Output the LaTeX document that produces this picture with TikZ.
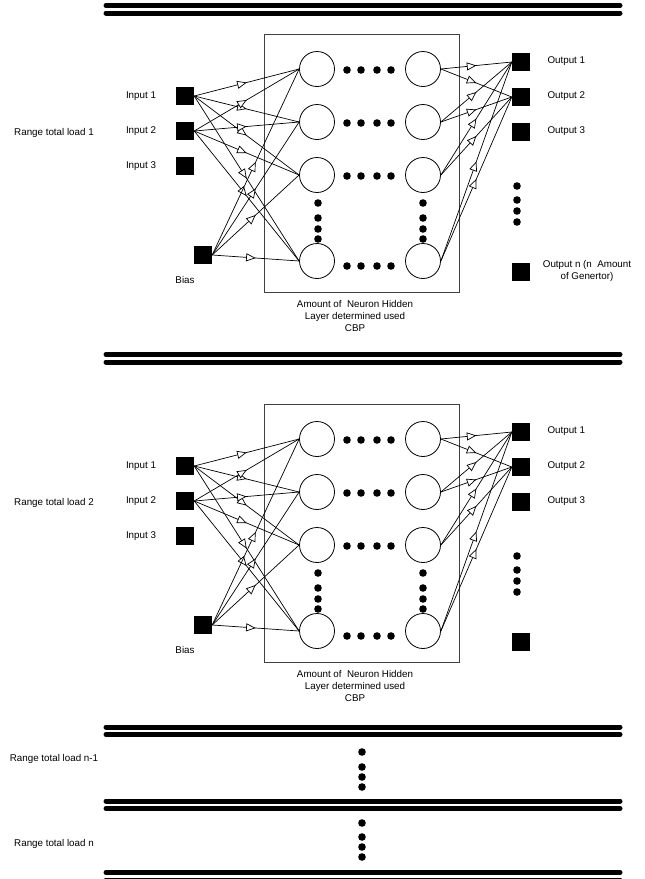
\documentclass[tikz,border=0pt]{standalone}
\usepackage{fontspec}
\setmainfont{Liberation Sans}
\usetikzlibrary{arrows.meta,decorations.markings}

\tikzset{
    unit/.style={circle, draw, line width=.8pt, minimum size=35pt, inner sep=0pt},
    port/.style={fill=black, minimum size=18pt, inner sep=0pt},
    link/.style={line width=.7pt, postaction={decorate},
        decoration={markings, mark=at position .5 with {\arrow[line width=.7pt]{Triangle[length=9.5pt,width=8pt,fill=white]}}}},
    lbl/.style={font=\fontsize{9.8}{12}\selectfont},
    busline/.style={line width=5pt, line cap=round},
    bigdot/.style={fill=black}
}

\begin{document}
\begin{tikzpicture}[x=1pt,y=-1pt]
    \useasboundingbox (0,0) rectangle (645,879);
    % Bus lines
    \foreach \y in {5.5,354.5,727,801,872.5} {
        \draw[busline] (106,\y) -- (620,\y);
        \draw[busline] (106,\y+7.5) -- (620,\y+7.5);
    }
    % Two networks
    \foreach \b/\oy in {1/0,2/370} {
        % Hidden layer
        \draw[black!75, line width=.8pt] (264,34+\oy) rectangle (459,292+\oy);
        \foreach \r/\y in {1/69,2/122,3/175,4/261} {
            \node[unit] (h\r-\b) at (317,\y+\oy) {};
            \node[unit] (k\r-\b) at (423,\y+\oy) {};
        }
        \foreach \y in {70,123,176,266}
            \foreach \x in {347,361,377,391}
                \fill[bigdot] (\x,\y+\oy) circle (3.8);
        \foreach \y in {203,218,229,239} {
            \fill[bigdot] (318,\y+\oy) circle (3.8);
            \fill[bigdot] (423,\y+\oy) circle (3.8);
        }
        \node[lbl, align=center] (cap-\b) at (355,316+\oy) {Amount of\ \ Neuron Hidden\\Layer determined used\\CBP};
        % Inputs
        \node[port] (in1-\b) at (185,96+\oy) {};
        \node[port] (in2-\b) at (185,131+\oy) {};
        \node[port] (in3-\b) at (185,166+\oy) {};
        \node[port] (bias-\b) at (203,255+\oy) {};
        \node[lbl] (tin1-\b) at (141,96+\oy) {Input 1};
        \node[lbl] (tin2-\b) at (141,131+\oy) {Input 2};
        \node[lbl] (tin3-\b) at (141,166+\oy) {Input 3};
        \node[lbl] (tbias-\b) at (185,280+\oy) {Bias};
        \node[lbl] (range-\b) at (54,133+\oy) {Range total load \b};
        % Outputs
        \node[port] (out1-\b) at (521,62+\oy) {};
        \node[port] (out2-\b) at (521,97+\oy) {};
        \node[port] (out3-\b) at (521,132+\oy) {};
        \node[port] (outn-\b) at (521,272+\oy) {};
        \node[lbl, anchor=west] (tout1-\b) at (544,61+\oy) {Output 1};
        \node[lbl, anchor=west] (tout2-\b) at (544,96+\oy) {Output 2};
        \node[lbl, anchor=west] (tout3-\b) at (544,131+\oy) {Output 3};
        \foreach \y in {186,200,211,222}
            \fill[bigdot] (517,\y+\oy) circle (3.8);
        % Weights
        \foreach \s in {in1,in2,bias}
            \foreach \r in {1,...,4}
                \draw[link] (\s-\b.east) -- (h\r-\b.west);
        \foreach \r in {1,...,4}
            \foreach \t in {1,2}
                \draw[link] (k\r-\b.east) -- (out\t-\b.west);
    }
    \node[lbl, align=center] (toutn) at (587,271) {Output n (n\ \ Amount\\of Genertor)};
    % Remaining ranges
    \node[lbl] (range-m) at (54,759) {Range total load n-1};
    \node[lbl] (range-n) at (54,844) {Range total load n};
    \foreach \y in {752,767,777,787,823,837,847,857}
        \fill[bigdot] (362,\y) circle (3.8);
\end{tikzpicture}
\end{document}
